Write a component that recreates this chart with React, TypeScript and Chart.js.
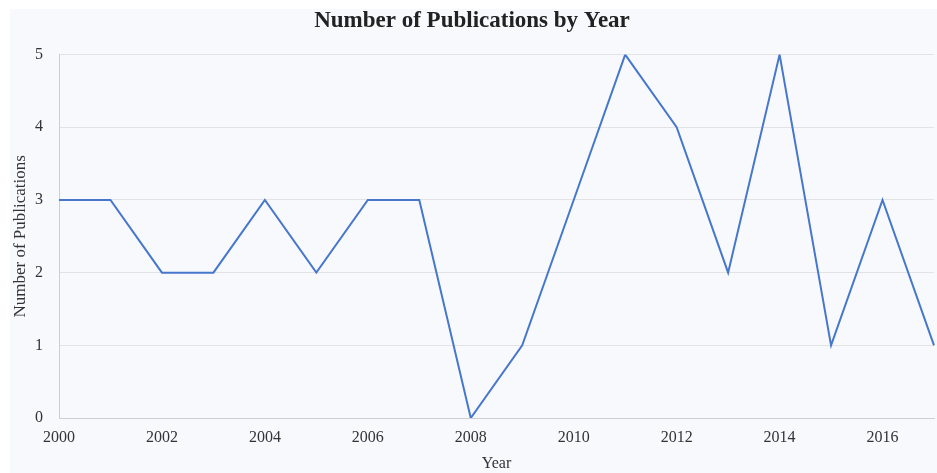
import React, { useEffect, useRef } from "react";
import { Chart, registerables } from "chart.js";

Chart.register(...registerables);

const years = ["2000","2001","2002","2003","2004","2005","2006","2007","2008","2009","2010","2011","2012","2013","2014","2015","2016","2017"];
const publications = [3, 3, 2, 2, 3, 2, 3, 3, 0, 1, 3, 5, 4, 2, 5, 1, 3, 1];
const yTicks = [0, 1, 2, 3, 4, 5];

const FONT = "'Liberation Serif', 'Times New Roman', serif";

const bgPlugin = {
  id: "bgFill",
  beforeDraw(chart: any) {
    const { ctx, width, height } = chart;
    ctx.save();
    ctx.fillStyle = "#ffffff";
    ctx.fillRect(0, 0, width, height);
    ctx.fillStyle = "#f7f9fc";
    ctx.fillRect(10, 9, width - 10, height - 9);
    ctx.restore();
  },
};

export default function App() {
  const ref = useRef<HTMLCanvasElement>(null);
  useEffect(() => {
    document.body.style.margin = "0";
    const chart = new Chart(ref.current as HTMLCanvasElement, {
      type: "line",
      data: {
        labels: years,
        datasets: [
          {
            label: "Publications",
            data: publications,
            borderColor: "#4677cc",
            borderWidth: 2,
            pointRadius: 0,
            tension: 0,
            fill: false,
          },
        ],
      },
      options: {
        animation: false,
        responsive: false,
        layout: { padding: { left: 10, top: 5, right: 3, bottom: 0 } },
        plugins: {
          legend: { display: false },
          tooltip: { enabled: false },
          title: {
            display: true,
            text: "Number of Publications by Year",
            color: "#222222",
            font: { family: FONT, size: 23, weight: "bold" },
            padding: { top: 2, bottom: 20 },
          },
        },
        scales: {
          x: {
            type: "category",
            grid: { display: false, drawTicks: false },
            border: { display: true, color: "#cfcfcf", width: 1 },
            ticks: {
              autoSkip: false,
              maxRotation: 0,
              padding: 10,
              color: "#333333",
              font: { family: FONT, size: 16 },
              callback: (_v: any, i: number) => (i % 2 === 0 ? years[i] : ""),
            },
            title: {
              display: true,
              text: "Year",
              color: "#333333",
              font: { family: FONT, size: 16 },
              padding: { top: 0, bottom: 0 },
            },
            afterFit: (s: any) => {
              s.height = 55;
              s.paddingRight = 0;
              s.paddingLeft = 0;
            },
          },
          y: {
            min: 0,
            max: 5,
            afterBuildTicks: (s: any) => {
              s.ticks = yTicks.map((v) => ({ value: v }));
            },
            grid: { color: "#e3e3e3", drawTicks: false },
            border: { display: true, color: "#cfcfcf", width: 1 },
            ticks: {
              padding: 16,
              color: "#333333",
              font: { family: FONT, size: 16 },
            },
            title: {
              display: true,
              text: "Number of Publications",
              color: "#333333",
              font: { family: FONT, size: 17 },
              padding: { top: 0, bottom: 0 },
            },
            afterFit: (s: any) => {
              s.width = 49;
            },
          },
        },
      },
      plugins: [bgPlugin],
    });
    return () => chart.destroy();
  }, []);
  return <canvas ref={ref} width={937} height={473} style={{ display: "block" }} />;
}
